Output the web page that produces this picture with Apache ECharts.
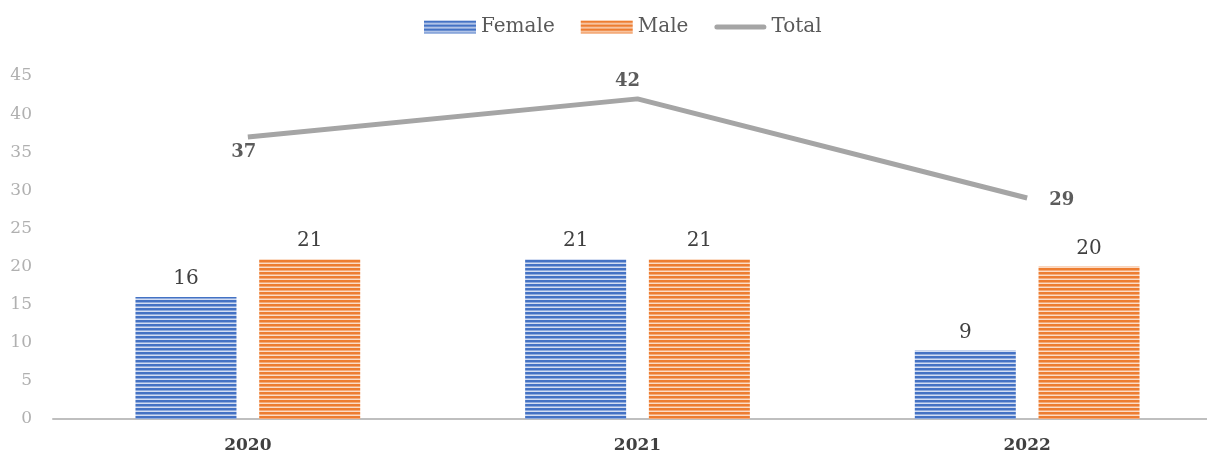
<!DOCTYPE html>
<html><head><meta charset="utf-8">
<script src="https://cdn.jsdelivr.net/npm/echarts@6/dist/echarts.min.js"></script>
<style>html,body{margin:0;padding:0;background:#fff;overflow:hidden}#c{width:1222px;height:457px}</style>
</head><body><div id="c"></div>
<script>
var categories = ['2020', '2021', '2022'];
var femaleValues = [16, 21, 9];
var maleValues = [21, 21, 20];
var totalValues = [37, 42, 29];
var yTicks = [0, 5, 10, 15, 20, 25, 30, 35, 40, 45];

var FONT = 'DejaVu Serif';
function stripes(main, mid, light) {
  var c = document.createElement('canvas');
  c.width = 8; c.height = 4;
  var g = c.getContext('2d');
  g.fillStyle = main; g.fillRect(0, 0, 8, 4);
  g.fillStyle = mid; g.fillRect(0, 2, 8, 1);
  g.fillStyle = light; g.fillRect(0, 3, 8, 1);
  return { image: c, repeat: 'repeat' };
}
var blue = stripes('#4472C4', '#8eaadc', '#d3ddf2');
var orange = stripes('#ED7D31', '#f4aa78', '#fbdcc6');

var chart = echarts.init(document.getElementById('c'), null, { renderer: 'canvas' });
chart.setOption({
  animation: false,
  legend: {
    top: 17, left: 424, padding: 0,
    itemWidth: 52, itemHeight: 13, itemGap: 26,
    textStyle: { fontFamily: FONT, fontSize: 20, color: '#595959' },
    data: [
      { name: 'Female', icon: 'rect' },
      { name: 'Male', icon: 'rect' },
      { name: 'Total', icon: 'path://M0,0 M52,13 M2.5,4 L49.5,4 A2.5,2.5 0 0 1 49.5,9 L2.5,9 A2.5,2.5 0 0 1 2.5,4 Z' }
    ]
  },
  grid: { left: 53, right: 0, top: 76, bottom: 38, containLabel: false },
  xAxis: {
    type: 'category', data: categories,
    axisLine: { lineStyle: { color: '#bfbfbf', width: 2 } },
    axisTick: { show: false },
    axisLabel: { fontFamily: FONT, fontSize: 17, fontWeight: 'bold', color: '#404040', margin: 18 }
  },
  yAxis: {
    type: 'value', min: yTicks[0], max: yTicks[yTicks.length - 1], interval: 5,
    axisLine: { show: false }, axisTick: { show: false },
    splitLine: { show: false },
    axisLabel: { fontFamily: FONT, fontSize: 17, color: '#b0b0b0', margin: 21 }
  },
  series: [
    {
      name: 'Female', type: 'bar', data: femaleValues,
      barWidth: 101, barGap: '22.5%',
      itemStyle: { color: blue },
      label: { show: true, position: 'top', distance: 8, fontFamily: FONT, fontSize: 20, color: '#404040' }
    },
    {
      name: 'Male', type: 'bar', data: maleValues,
      barWidth: 101, barGap: '22.5%',
      itemStyle: { color: orange },
      label: { show: true, position: 'top', distance: 8, fontFamily: FONT, fontSize: 20, color: '#404040' }
    },
    {
      name: 'Total', type: 'line', symbol: 'none',
      lineStyle: { color: '#a5a5a5', width: 5 },
      itemStyle: { color: '#a5a5a5' },
      data: totalValues
    },
    {
      name: 'TotalLabels', type: 'scatter', symbolSize: 0, silent: true,
      itemStyle: { color: 'transparent' },
      label: { show: true, fontFamily: FONT, fontSize: 18, fontWeight: 'bold', color: '#333333' },
      data: [
        { value: totalValues[0], label: { position: 'bottom', distance: 6, offset: [-4, 0] } },
        { value: totalValues[1], label: { position: 'top', distance: 9, offset: [-10, 0] } },
        { value: totalValues[2], label: { position: 'right', distance: 22, offset: [0, 2] } }
      ]
    }
  ]
});
</script></body></html>
